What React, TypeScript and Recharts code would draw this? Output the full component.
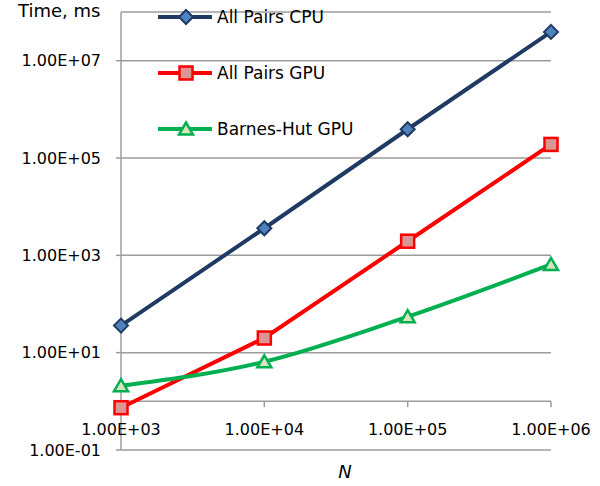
import React from 'react';
import { LineChart, Line, XAxis, YAxis, CartesianGrid, ReferenceLine, Legend } from 'recharts';

const nValues = [1e3, 1e4, 1e5, 1e6];
const allPairsCpu = [36, 3600, 3.9e5, 3.9e7];
const allPairsGpu = [0.74, 20, 1950, 1.9e5];
const barnesHutGpu = [2.1, 6.5, 55, 650];
const xTicks = [1e3, 1e4, 1e5, 1e6];
const yTicks = [0.1, 10, 1e3, 1e5, 1e7];
const seriesNames = ['All Pairs CPU', 'All Pairs GPU', 'Barnes-Hut GPU'];
const seriesKeys = ['cpu', 'gpu', 'bh'];
const lineColors = ['#1f3a63', '#ff0000', '#00b050'];
const markerFills = ['#4f81bd', '#d99694', '#d7e4bd'];
const markerShapes = ['diamond', 'square', 'triangle'];
const curveTypes = ['linear', 'linear', 'monotone'];

const data = nValues.map((n, i) => ({
  n,
  cpu: allPairsCpu[i],
  gpu: allPairsGpu[i],
  bh: barnesHutGpu[i],
}));

const FONT = 'DejaVu Sans, sans-serif';
const GRID = '#9c9c9c';

const fmt = (v: number) => {
  const e = Math.round(Math.log10(v));
  const m = v / Math.pow(10, e);
  const sign = e < 0 ? '-' : '+';
  const ae = Math.abs(e);
  return `${m.toFixed(2)}E${sign}${ae < 10 ? '0' + ae : ae}`;
};

const Marker = ({ cx, cy, idx }: { cx: number; cy: number; idx: number }) => {
  const shape = markerShapes[idx];
  const stroke = lineColors[idx];
  const fill = markerFills[idx];
  if (shape === 'diamond') {
    const r = 7;
    return (
      <polygon
        points={`${cx},${cy - r} ${cx + r},${cy} ${cx},${cy + r} ${cx - r},${cy}`}
        fill={fill}
        stroke={stroke}
        strokeWidth={2}
      />
    );
  }
  if (shape === 'square') {
    const s = 6.5;
    return <rect x={cx - s} y={cy - s} width={2 * s} height={2 * s} fill={fill} stroke={stroke} strokeWidth={2.5} />;
  }
  const h = 6.5;
  return (
    <polygon
      points={`${cx},${cy - h} ${cx + 7},${cy + 5.5} ${cx - 7},${cy + 5.5}`}
      fill={fill}
      stroke={stroke}
      strokeWidth={2.5}
      strokeLinejoin="miter"
    />
  );
};

const LegendContent = () => (
  <div style={{ display: 'flex', flexDirection: 'column', fontFamily: FONT }}>
    {seriesNames.map((name, i) => (
      <div key={name} style={{ height: 20, marginBottom: 36, display: 'flex', alignItems: 'center' }}>
        <svg width={54} height={20} style={{ overflow: 'visible' }}>
          <line x1={0} x2={54} y1={10} y2={10} stroke={lineColors[i]} strokeWidth={4} />
          <Marker cx={28} cy={10} idx={i} />
        </svg>
        <span style={{ marginLeft: 5, fontSize: 17, color: '#000', whiteSpace: 'nowrap' }}>{name}</span>
      </div>
    ))}
  </div>
);

const XTick = (props: any) => {
  const { x, y, payload } = props;
  return (
    <text x={x} y={y} dy={-15} textAnchor="middle" fontSize={16} fontFamily={FONT} fill="#000">
      {fmt(payload.value)}
    </text>
  );
};

export default function App() {
  return (
    <div style={{ position: 'absolute', left: 0, top: 0, width: 600, height: 486, fontFamily: FONT }}>
      <LineChart width={600} height={486} data={data} margin={{ top: 12, right: 49, bottom: 6, left: 10 }}>
        <CartesianGrid vertical={false} stroke={GRID} strokeWidth={1.5} />
        <XAxis
          dataKey="n"
          type="number"
          scale="log"
          domain={[1e3, 1e6]}
          ticks={xTicks}
          axisLine={false}
          tickLine={false}
          tickSize={0}
          tickMargin={0}
          height={30}
          tick={<XTick />}
        />
        <YAxis
          type="number"
          scale="log"
          domain={[0.1, 1e8]}
          ticks={yTicks}
          width={111}
          tickFormatter={fmt}
          tickSize={5}
          tickMargin={15}
          tick={{ fontSize: 16, fontFamily: FONT, fill: '#000' }}
          axisLine={{ stroke: GRID, strokeWidth: 1.5 }}
          tickLine={{ stroke: GRID, strokeWidth: 1.5 }}
        />
        <ReferenceLine y={1} stroke={GRID} strokeWidth={1.5} />
        {xTicks.slice(1).map((t) => (
          <ReferenceLine
            key={t}
            segment={[
              { x: t, y: 1 },
              { x: t, y: 0.76 },
            ]}
            stroke={GRID}
            strokeWidth={1.5}
          />
        ))}
        <Legend
          layout="vertical"
          align="center"
          verticalAlign="middle"
          content={() => <LegendContent />}
          wrapperStyle={{ position: 'absolute', left: 158, top: 7, width: 'auto' }}
        />
        {seriesKeys.map((k, i) => (
          <Line
            key={k}
            dataKey={k}
            name={seriesNames[i]}
            type={curveTypes[i] as any}
            stroke={lineColors[i]}
            strokeWidth={4}
            isAnimationActive={false}
            dot={(p: any) => <Marker key={`${k}-${p.index}`} cx={p.cx} cy={p.cy} idx={i} />}
            activeDot={false}
          />
        ))}
      </LineChart>
      <div style={{ position: 'absolute', left: 18, top: 0, fontSize: 18, color: '#000', whiteSpace: 'nowrap' }}>
        Time, ms
      </div>
      <div
        style={{
          position: 'absolute',
          left: 345,
          top: 461,
          fontSize: 18,
          fontStyle: 'italic',
          transform: 'translateX(-50%)',
          color: '#000',
        }}
      >
        N
      </div>
    </div>
  );
}
